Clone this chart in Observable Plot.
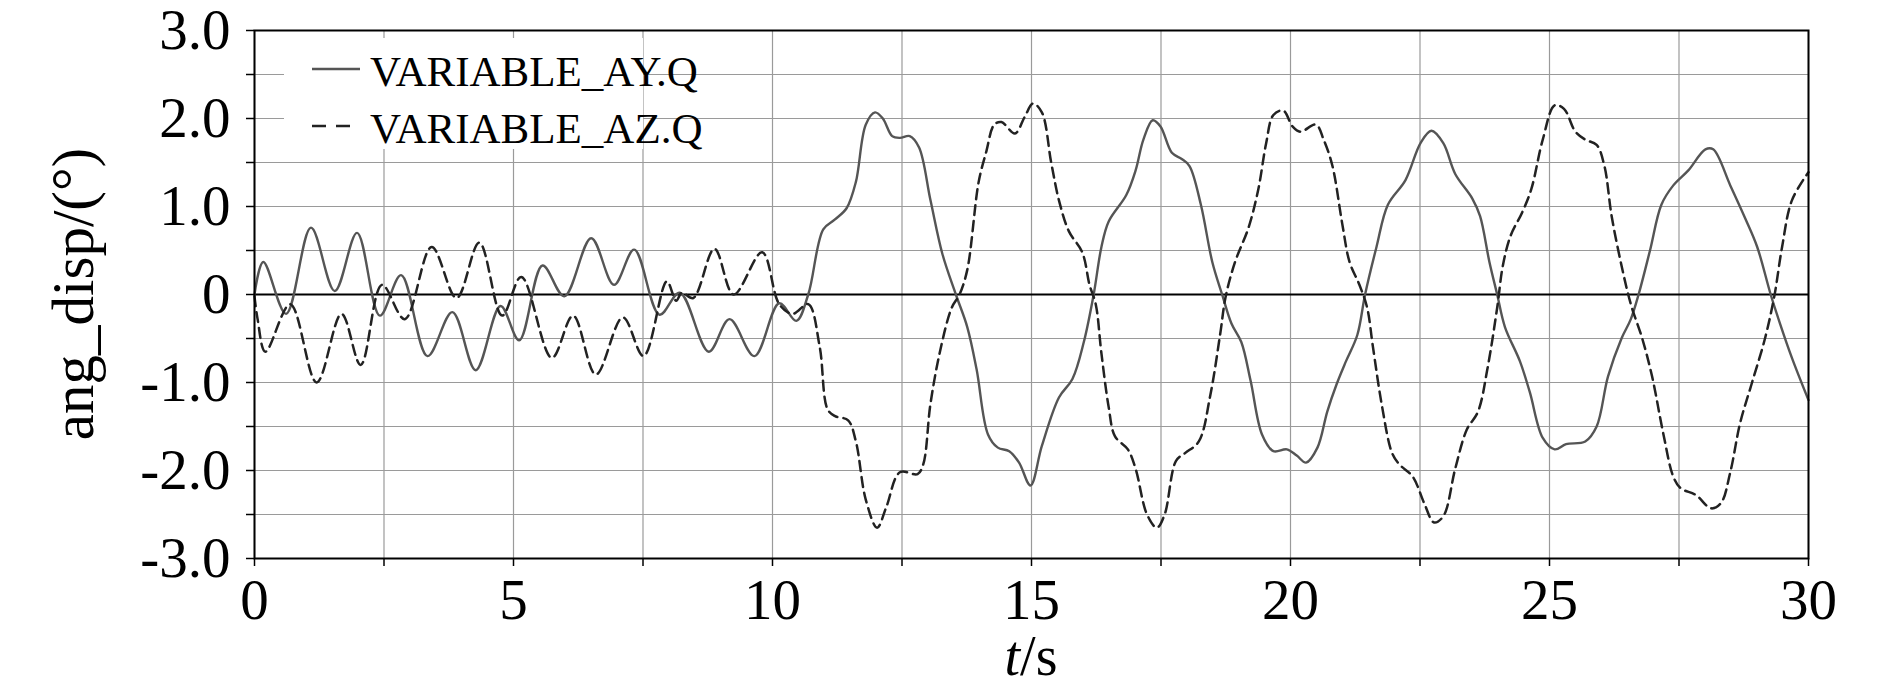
<!DOCTYPE html>
<html>
<head>
<meta charset="utf-8">
<script src="https://cdn.jsdelivr.net/npm/d3@7"></script>
<script src="https://cdn.jsdelivr.net/npm/@observablehq/plot@0.6"></script>
<style>
  html, body { margin: 0; padding: 0; background: #fff; }
  #wrap { position: relative; width: 1890px; height: 690px; font-family: "Liberation Serif", "Times New Roman", serif; }
  #legend { position: absolute; left: 284px; top: 38px; width: 359px; height: 111px; background: #fff; overflow: visible; }
  .row { position: absolute; left: 0; height: 52px; white-space: nowrap; font-size: 43px; line-height: 52px; color: #000; }
  .row svg { position: absolute; left: 28px; top: 0; }
  .row span { position: absolute; left: 86px; top: 2px; }
</style>
</head>
<body>
<div id="wrap">
  <div id="chart"></div>
  <div id="legend">
    <div class="row" style="top:6px;">
      <svg width="52" height="52"><line x1="0" x2="48" y1="25" y2="25" stroke="#555" stroke-width="2.5"/></svg>
      <span>VARIABLE_AY.Q</span>
    </div>
    <div class="row" style="top:63px;">
      <svg width="52" height="52"><line x1="0" x2="42" y1="25" y2="25" stroke="#222" stroke-width="2.5" stroke-dasharray="14,10"/></svg>
      <span>VARIABLE_AZ.Q</span>
    </div>
  </div>
</div>
<script>
// time (s) and angular displacement (deg) for VARIABLE_AY.Q (solid)
const ayT = [0,0.17,0.61,1.09,1.55,1.98,2.42,2.83,3.34,3.82,4.27,4.75,5.11,5.56,5.98,6.50,6.94,7.33,7.82,8.21,8.77,9.17,9.65,10.13,10.46,10.69,10.98,11.20,11.43,11.61,11.80,11.98,12.13,12.31,12.46,12.65,12.83,13.05,13.28,13.54,13.76,13.94,14.16,14.35,14.57,14.76,14.98,15.20,15.53,15.79,16.01,16.20,16.35,16.49,16.83,17.01,17.16,17.34,17.49,17.71,17.90,18.05,18.27,18.49,18.68,18.86,19.05,19.23,19.45,19.67,19.93,20.12,20.30,20.52,20.71,20.89,21.07,21.29,21.44,21.66,21.88,22.22,22.51,22.72,22.95,23.18,23.51,23.66,23.84,23.99,24.14,24.43,24.62,24.87,25.10,25.32,25.69,25.91,26.13,26.39,26.57,26.72,26.94,27.16,27.39,27.68,28.01,28.16,28.49,28.79,29.01,29.27,29.45,29.68,30.0];
const ayV = [0,0.37,-0.22,0.76,0.04,0.70,-0.24,0.22,-0.70,-0.20,-0.86,-0.13,-0.52,0.33,-0.02,0.64,0.11,0.51,-0.23,0.02,-0.65,-0.28,-0.70,-0.10,-0.30,0,0.74,0.85,0.98,1.28,1.93,2.07,2.00,1.80,1.78,1.80,1.67,1.07,0.46,0,-0.37,-0.85,-1.59,-1.74,-1.78,-1.91,-2.17,-1.72,-1.17,-0.96,-0.54,0,0.54,0.83,1.13,1.41,1.76,1.98,1.91,1.61,1.54,1.46,1.02,0.37,0,-0.33,-0.54,-0.98,-1.59,-1.78,-1.76,-1.83,-1.91,-1.74,-1.33,-1.02,-0.76,-0.46,0,0.54,1.02,1.30,1.72,1.86,1.72,1.37,1.09,0.89,0.37,0,-0.37,-0.76,-1.11,-1.63,-1.76,-1.70,-1.67,-1.50,-0.93,-0.50,-0.28,0,0.50,1.02,1.24,1.41,1.65,1.65,1.24,0.85,0.54,0,-0.33,-0.72,-1.20];

// time (s) and angular displacement (deg) for VARIABLE_AZ.Q (dashed)
const azT = [0,0.06,0.21,0.69,1.20,1.68,2.05,2.46,2.90,3.42,3.90,4.34,4.78,5.15,5.74,6.15,6.59,7.11,7.51,7.96,8.14,8.25,8.47,8.88,9.25,9.80,10.13,10.39,10.69,10.91,11.06,11.20,11.46,11.61,11.80,12.02,12.20,12.46,12.80,12.91,13.05,13.24,13.46,13.61,13.76,13.98,14.13,14.28,14.42,14.68,14.87,15.03,15.20,15.38,15.53,15.72,15.98,16.12,16.24,16.35,16.49,16.61,16.86,17.01,17.23,17.42,17.57,17.79,17.97,18.23,18.45,18.64,18.75,18.93,19.19,19.38,19.53,19.67,19.86,20.04,20.19,20.49,20.64,20.81,21.00,21.14,21.33,21.48,21.59,21.77,21.96,22.10,22.36,22.58,22.77,22.95,23.18,23.40,23.62,23.80,23.99,24.10,24.25,24.47,24.65,24.87,25.10,25.28,25.50,25.69,25.91,26.06,26.20,26.39,26.57,26.79,26.98,27.20,27.39,27.53,27.83,28.12,28.31,28.49,28.68,28.90,29.16,29.34,29.49,29.68,30.0];
const azV = [-0.02,-0.28,-0.65,-0.11,-1.00,-0.22,-0.80,0.11,-0.28,0.54,-0.04,0.59,-0.24,0.20,-0.72,-0.24,-0.91,-0.26,-0.70,0.15,-0.07,0.02,-0.04,0.52,0.0,0.48,-0.11,-0.22,-0.11,-0.59,-1.30,-1.38,-1.43,-1.67,-2.33,-2.65,-2.41,-2.02,-2.04,-1.93,-1.24,-0.63,-0.15,0,0.28,1.28,1.63,1.93,1.96,1.83,2.02,2.17,2.07,1.50,1.07,0.72,0.48,0.11,-0.11,-0.67,-1.28,-1.61,-1.76,-1.98,-2.50,-2.65,-2.50,-1.89,-1.80,-1.67,-1.15,-0.46,-0.02,0.37,0.76,1.20,1.72,2.04,2.09,1.91,1.85,1.93,1.76,1.46,0.80,0.37,0.11,-0.15,-0.59,-1.28,-1.80,-1.93,-2.07,-2.37,-2.59,-2.52,-1.98,-1.54,-1.33,-0.85,-0.15,0.33,0.67,0.93,1.20,1.76,2.15,2.11,1.85,1.76,1.70,1.46,0.89,0.33,-0.11,-0.50,-0.93,-1.59,-2.07,-2.20,-2.28,-2.43,-2.37,-2.02,-1.46,-1.02,-0.50,-0.02,0.54,1.07,1.39];

const xTicks = [0,2.5,5,7.5,10,12.5,15,17.5,20,22.5,25,27.5,30];
const yTicks = [-3,-2.5,-2,-1.5,-1,-0.5,0,0.5,1,1.5,2,2.5,3];
const xLabelTicks = [0,5,10,15,20,25,30];
const yLabelTicks = [-3,-2,-1,0,1,2,3];

const ay = ayT.map((t, i) => ({t, v: ayV[i]}));
const az = azT.map((t, i) => ({t, v: azV[i]}));

const chart = Plot.plot({
  width: 1890,
  height: 690,
  marginLeft: 254,
  marginRight: 82,
  marginTop: 30,
  marginBottom: 132,
  style: {fontFamily: "'Liberation Serif', 'Times New Roman', serif", fontSize: "57px", color: "#000", background: "#fff", overflow: "visible"},
  x: {domain: [0, 30]},
  y: {domain: [-3, 3]},
  marks: [
    Plot.gridX(xTicks, {stroke: "#9a9a9a", strokeOpacity: 1, strokeWidth: 1.2}),
    Plot.gridY(yTicks, {stroke: "#9a9a9a", strokeOpacity: 1, strokeWidth: 1.2}),
    Plot.ruleY([0], {stroke: "#000", strokeWidth: 2}),
    Plot.line(ay, {x: "t", y: "v", stroke: "#555", strokeWidth: 2.4, curve: "catmull-rom"}),
    Plot.line(az, {x: "t", y: "v", stroke: "#222", strokeWidth: 2.5, strokeDasharray: "10,6", curve: "catmull-rom"}),
    Plot.frame({stroke: "#000", strokeWidth: 2}),
    Plot.axisX({ticks: xTicks, tickSize: 8, tickPadding: 12, tickFormat: d => xLabelTicks.includes(d) ? String(d) : "", label: null, stroke: "#000", strokeWidth: 1.5}),
    Plot.axisY({ticks: yTicks, tickSize: 8, tickPadding: 16, tickFormat: d => yLabelTicks.includes(d) ? (d === 0 ? "0" : d.toFixed(1)) : "", label: null, stroke: "#000", strokeWidth: 1.5})
  ]
});
document.getElementById("chart").appendChild(chart);

const svg = d3.select(chart);
// y-axis title
svg.append("text")
  .attr("transform", "translate(93,294) rotate(-90)")
  .attr("text-anchor", "middle")
  .attr("font-family", "'Liberation Serif', 'Times New Roman', serif")
  .attr("font-size", 59)
  .attr("fill", "#000")
  .text("ang_disp/(°)");
// x-axis title
const xt = svg.append("text")
  .attr("x", 1031)
  .attr("y", 675)
  .attr("text-anchor", "middle")
  .attr("font-family", "'Liberation Serif', 'Times New Roman', serif")
  .attr("font-size", 56)
  .attr("fill", "#000");
xt.append("tspan").attr("font-style", "italic").text("t");
xt.append("tspan").text("/s");
</script>
</body>
</html>
